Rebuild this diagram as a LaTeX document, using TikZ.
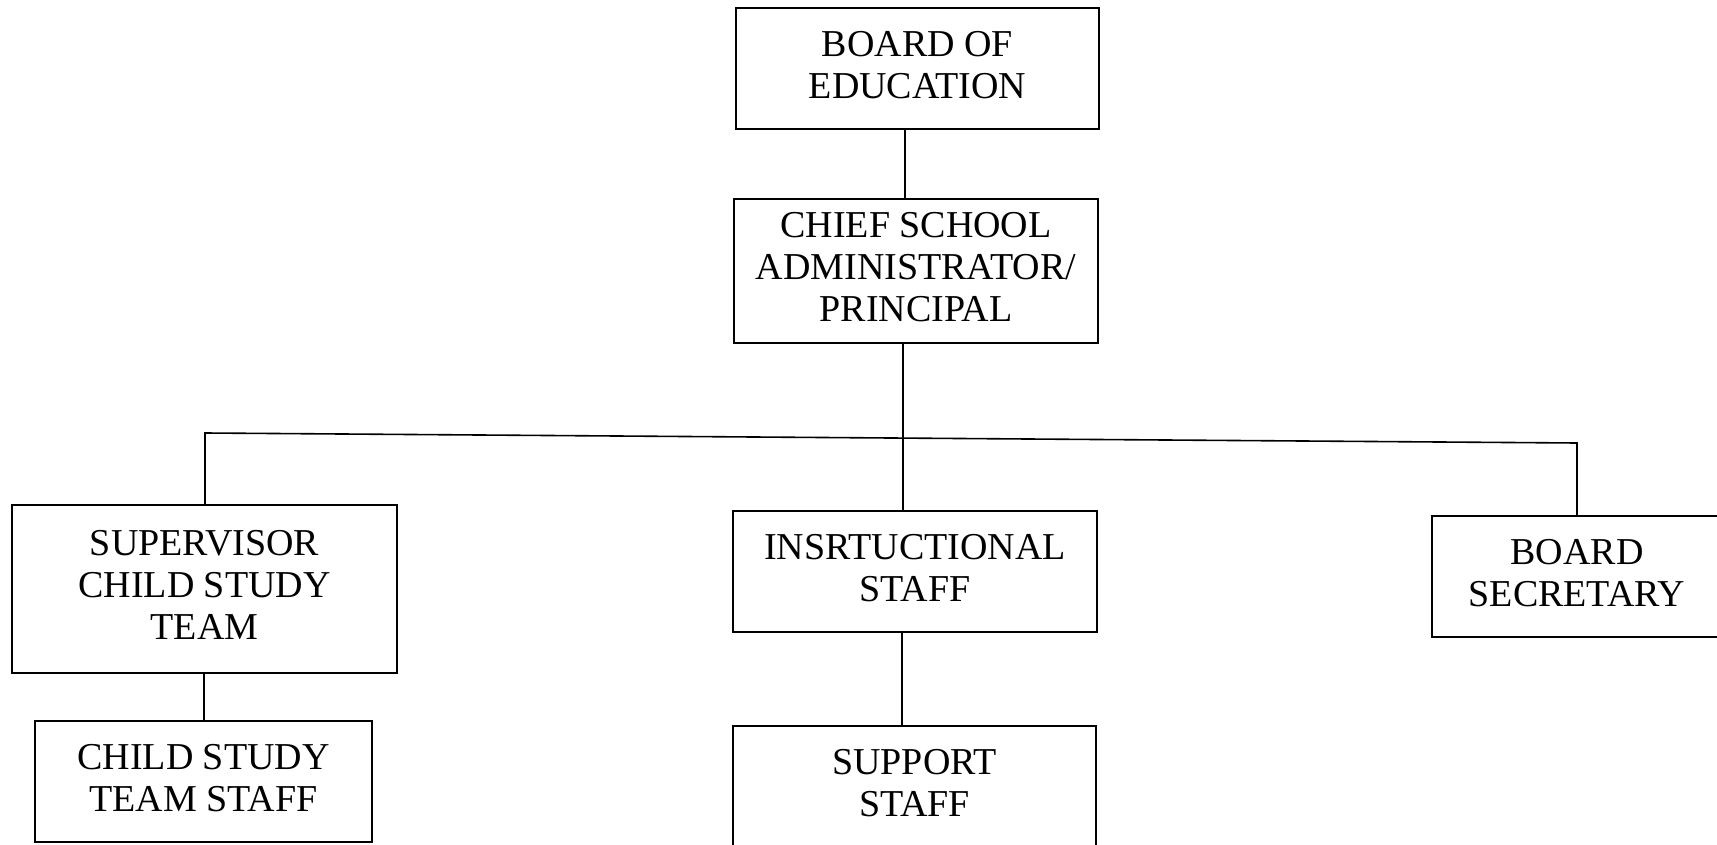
\documentclass[tikz,border=0pt]{standalone}
\usepackage{fontspec}
\setmainfont{Liberation Serif}
\begin{document}
\begin{tikzpicture}[x=1pt,y=-1pt,
  orgbox/.style={draw=black, line width=1.6pt, rectangle, align=center, inner sep=0pt,
    font=\fontsize{38}{42}\selectfont, text depth=8pt},
  link/.style={draw=black, line width=1.6pt}]
\useasboundingbox (0,0) rectangle (1717,845);
\fill[white] (0,0) rectangle (1717,845);
\node[orgbox, minimum width=363pt, minimum height=121pt] (board) at (917.5,68.5) {BOARD OF\\EDUCATION};
\node[orgbox, minimum width=364pt, minimum height=144pt] (chief) at (916,271) {CHIEF SCHOOL\\ADMINISTRATOR/\\PRINCIPAL};
\node[orgbox, minimum width=385pt, minimum height=168pt] (sup) at (204.5,589) {SUPERVISOR\\CHILD STUDY\\TEAM};
\node[orgbox, minimum width=337pt, minimum height=121pt] (cst) at (203.5,781.5) {CHILD STUDY\\TEAM STAFF};
\node[orgbox, minimum width=364pt, minimum height=121pt] (instr) at (915,571.5) {INSRTUCTIONAL\\STAFF};
\node[orgbox, minimum width=363pt, minimum height=121pt] (support) at (914.5,786.5) {SUPPORT\\STAFF};
\node[orgbox, minimum width=290pt, minimum height=121pt] (bsec) at (1577,576.5) {BOARD\\SECRETARY};
\coordinate (v1) at (905,0);
\coordinate (busL) at (205,433);
\coordinate (busM) at (903,437.5);
\coordinate (busR) at (1577,443);
\coordinate (v2) at (902,0);
\coordinate (v3) at (204,0);
\draw[link] (board.south -| v1) -- (chief.north -| v1);
\draw[link] (chief.south -| busM) -- (instr.north -| busM);
\draw[link] (sup.north -| busL) -- (busL) -- (busR) -- (bsec.north -| busR);
\draw[link] (instr.south -| v2) -- (support.north -| v2);
\draw[link] (sup.south -| v3) -- (cst.north -| v3);
\end{tikzpicture}
\end{document}
